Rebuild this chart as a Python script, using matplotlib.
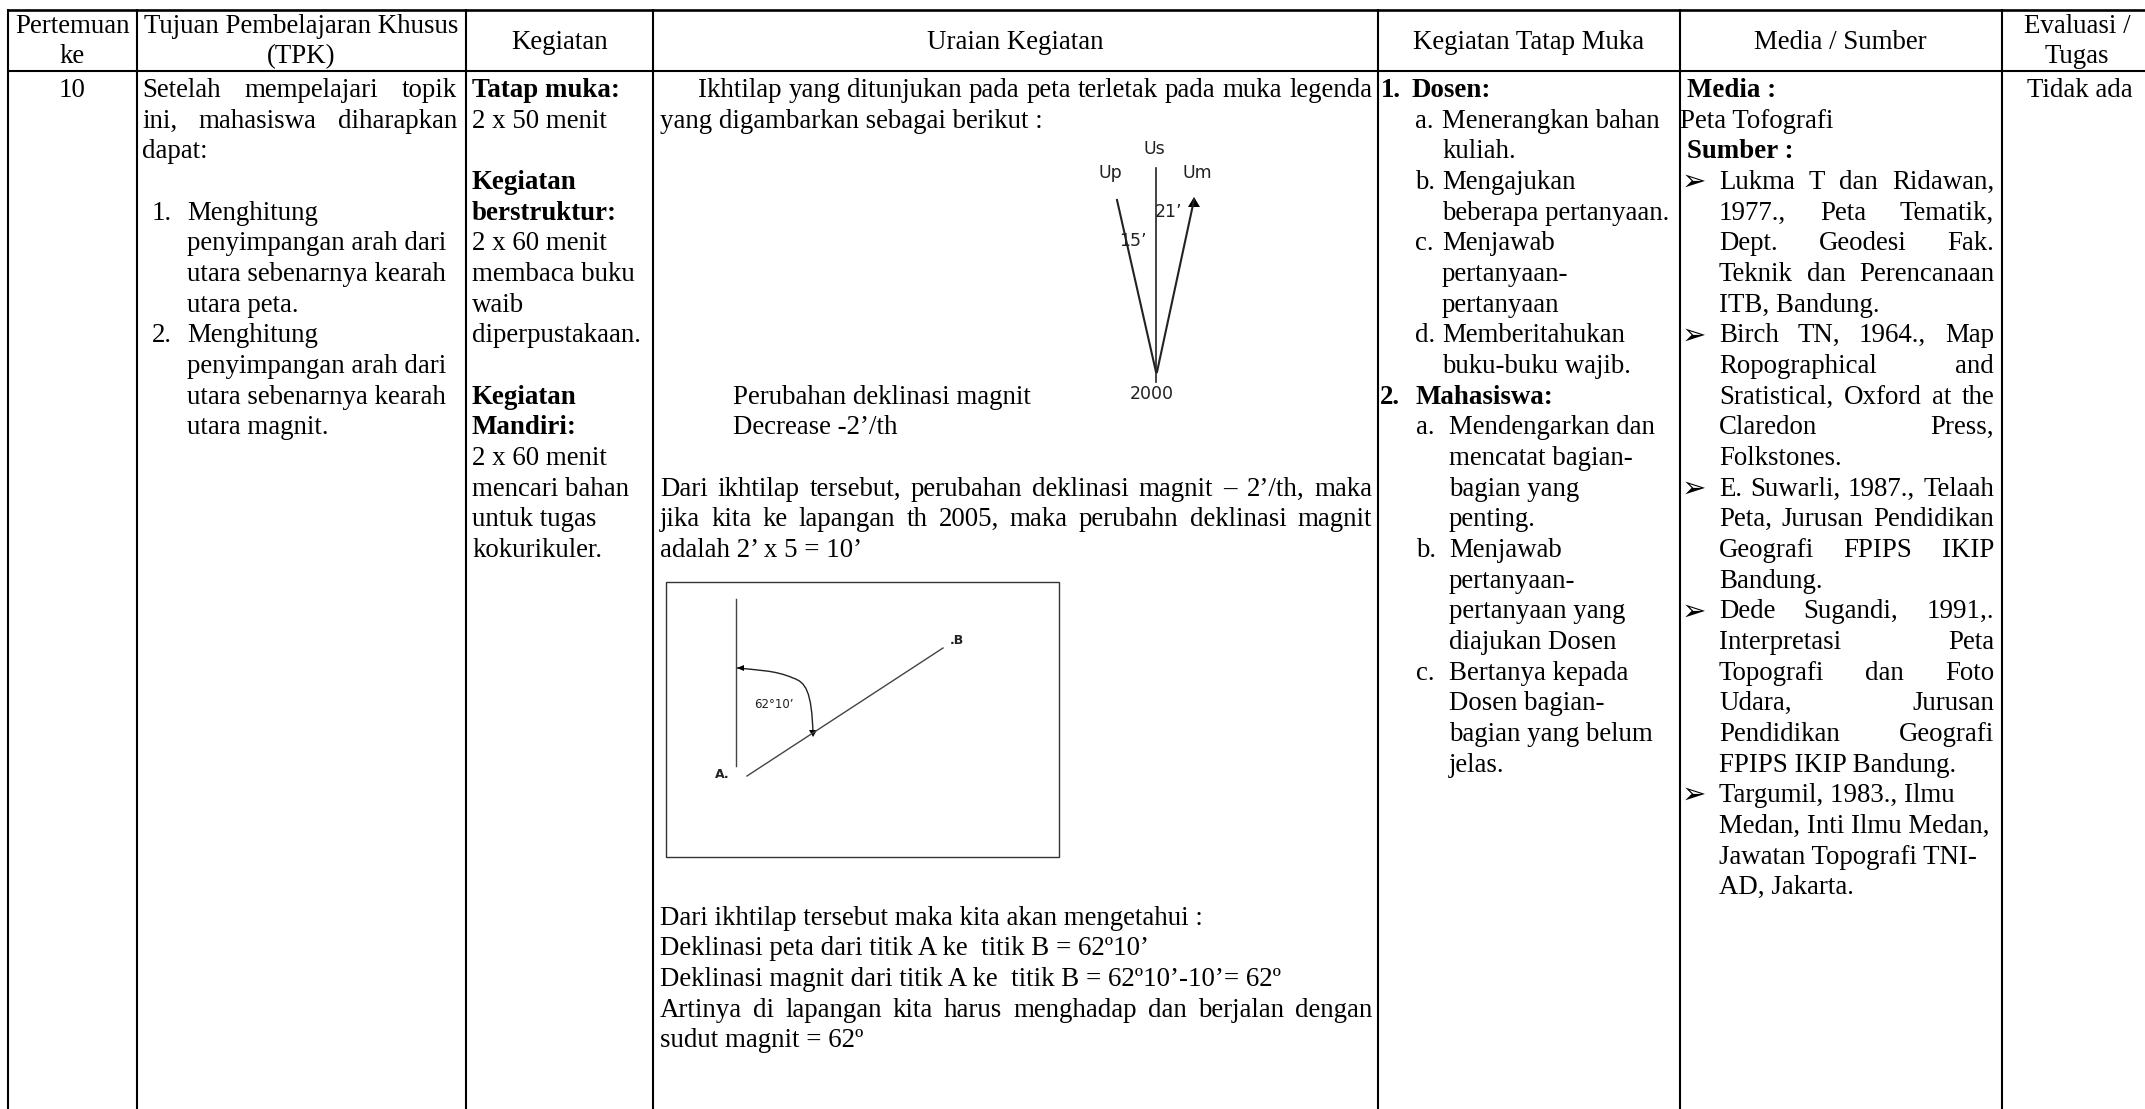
import matplotlib
matplotlib.use("Agg")
import matplotlib.pyplot as plt
from matplotlib.patches import Rectangle, Polygon, PathPatch
from matplotlib.path import Path

W, H = 2145, 1109
SERIF = "Liberation Serif"
FS = 19.4
LINE = 30.66
BASE0 = 97.0

# ---- table content -----------------------------------------------------
HEADERS = [["Pertemuan", "ke"], ["Tujuan Pembelajaran Khusus", "(TPK)"], ["Kegiatan"],
           ["Uraian Kegiatan"], ["Kegiatan Tatap Muka"], ["Media / Sumber"], ["Evaluasi /", "Tugas"]]
COL_EDGES = [8, 137, 466, 652.5, 1378, 1679.5, 2002, 2145]
PERTEMUAN = ["10"]
EVALUASI = ["Tidak ada"]

# (text, layout key, justified); "|" splits a list marker from its text; None = blank row
TPK = [("Setelah mempelajari topik", "p", True), ("ini, mahasiswa diharapkan", "p", True), ("dapat:", "p", False), None,
       ("1.|Menghitung", "n", False), ("penyimpangan arah dari", "c", False), ("utara sebenarnya kearah", "c", False), ("utara peta.", "c", False),
       ("2.|Menghitung", "n", False), ("penyimpangan arah dari", "c", False), ("utara sebenarnya kearah", "c", False), ("utara magnit.", "c", False)]
KEGIATAN = [("*Tatap muka:", "p", False), ("2 x 50 menit", "p", False), None,
            ("*Kegiatan", "p", False), ("*berstruktur:", "p", False), ("2 x 60 menit", "p", False), ("membaca buku", "p", False), ("waib", "p", False), ("diperpustakaan.", "p", False), None,
            ("*Kegiatan", "p", False), ("*Mandiri:", "p", False), ("2 x 60 menit", "p", False), ("mencari bahan", "p", False), ("untuk tugas", "p", False), ("kokurikuler.", "p", False)]
URAIAN = [("Ikhtilap yang ditunjukan pada peta terletak pada muka legenda", "f", True), ("yang digambarkan sebagai berikut :", "p", False),
          None, None, None, None, None, None, None, None,
          ("Perubahan deklinasi magnit", "i", False), ("Decrease -2’/th", "i", False), None,
          ("Dari ikhtilap tersebut, perubahan deklinasi magnit – 2’/th, maka", "p", True),
          ("jika kita ke lapangan th 2005, maka perubahn deklinasi magnit", "p", True),
          ("adalah 2’ x 5 = 10’", "p", False),
          None, None, None, None, None, None, None, None, None, None, None,
          ("Dari ikhtilap tersebut maka kita akan mengetahui :", "p", False),
          ("Deklinasi peta dari titik A ke  titik B = 62º10’", "p", False),
          ("Deklinasi magnit dari titik A ke  titik B = 62º10’-10’= 62º", "p", False),
          ("Artinya di lapangan kita harus menghadap dan berjalan dengan", "p", True),
          ("sudut magnit = 62º", "p", False)]
TATAP = [("*1.|*Dosen:", "h1", False), ("a.|Menerangkan bahan", "a1", False), ("kuliah.", "c1", False),
         ("b.|Mengajukan", "a1", False), ("beberapa pertanyaan.", "c1", False), ("c.|Menjawab", "a1", False),
         ("pertanyaan-", "c1", False), ("pertanyaan", "c1", False), ("d.|Memberitahukan", "a1", False), ("buku-buku wajib.", "c1", False),
         ("*2.|*Mahasiswa:", "h2", False), ("a.|Mendengarkan dan", "a2", False), ("mencatat bagian-", "c2", False), ("bagian yang", "c2", False), ("penting.", "c2", False),
         ("b.|Menjawab", "a2", False), ("pertanyaan-", "c2", False), ("pertanyaan yang", "c2", False), ("diajukan Dosen", "c2", False),
         ("c.|Bertanya kepada", "a2", False), ("Dosen bagian-", "c2", False), ("bagian yang belum", "c2", False), ("jelas.", "c2", False)]
MEDIA = [("*Media :", "h", False), ("Peta Tofografi", "p", False), ("*Sumber :", "h", False),
         ("➢|Lukma T dan Ridawan,", "b", True), ("1977.,  Peta  Tematik,", "c", True), ("Dept.  Geodesi  Fak.", "c", True), ("Teknik dan Perencanaan", "c", True), ("ITB, Bandung.", "c", False),
         ("➢|Birch TN, 1964., Map", "b", True), ("Ropographical and", "c", True), ("Sratistical, Oxford at the", "c", True), ("Claredon Press,", "c", True), ("Folkstones.", "c", False),
         ("➢|E. Suwarli, 1987., Telaah", "b", True), ("Peta, Jurusan Pendidikan", "c", True), ("Geografi FPIPS IKIP", "c", True), ("Bandung.", "c", False),
         ("➢|Dede Sugandi, 1991,.", "b", True), ("Interpretasi Peta", "c", True), ("Topografi dan Foto", "c", True), ("Udara, Jurusan", "c", True), ("Pendidikan Geografi", "c", True), ("FPIPS IKIP Bandung.", "c", False),
         ("➢|Targumil, 1983., Ilmu", "b", False), ("Medan, Inti Ilmu Medan,", "c", False), ("Jawatan Topografi TNI-", "c", False), ("AD, Jakarta.", "c", False)]

# layout: key -> (marker x, text x)
LAYOUT_TPK = {"p": (142, 142), "n": (152, 187), "c": (187, 187)}
LAYOUT_KEG = {"p": (472, 472)}
LAYOUT_URA = {"p": (660, 660), "f": (698, 698), "i": (733, 733)}
LAYOUT_TAT = {"h1": (1381, 1412), "h2": (1380, 1416), "a1": (1415, 1442), "c1": (1442, 1442), "a2": (1416, 1449), "c2": (1449, 1449)}
LAYOUT_MED = {"h": (1687, 1687), "p": (1680, 1680), "b": (1682, 1719), "c": (1719, 1719)}
RIGHT_TPK, RIGHT_URA, RIGHT_MED = 457, 1372, 1994

# ---- figures inside the table ------------------------------------------
COMPASS_LABELS = [("Us", 1154, 149), ("Up", 1110, 173), ("Um", 1197, 173), ("21’", 1169, 212), ("15’", 1133, 241), ("2000", 1152, 394)]
COMPASS_TRUE = [(1156, 168), (1156, 382)]
COMPASS_UP = [(1117, 200), (1156, 372)]
COMPASS_UM = [(1157, 372), (1194, 200)]
BOX = (666, 582, 1059, 857)
NORTH_LINE = [(736, 599), (736, 766)]
AB_LINE = [(747, 776), (943, 648)]
ANGLE_ARC = [(813, 735), (812, 690), (805, 682), (793, 678), (775, 670), (755, 670), (737, 668)]
BOX_LABELS = [("62°10’", 774, 705, 8.5, "normal"), ("A.", 722, 774, 9.0, "bold"), (".B", 957, 641, 9.0, "bold")]

fig = plt.figure(figsize=(W / 100, H / 100), dpi=100)
ax = fig.add_axes([0, 0, 1, 1])
ax.set_xlim(0, W)
ax.set_ylim(H, 0)
ax.axis("off")
r = fig.canvas.get_renderer()


def width(s, bold):
    t = ax.text(0, 0, s, family=SERIF, fontsize=FS, weight="bold" if bold else "normal")
    w = t.get_window_extent(r).width
    t.remove()
    return w


def put(x, y, s, bold=False, **kw):
    return ax.text(x, y, s, family=SERIF, fontsize=FS, weight="bold" if bold else "normal",
                   va="baseline", color="black", **kw)


def draw_piece(x, y, s, bold, right=None):
    if right is None:
        put(x, y, s, bold)
        return
    words = s.split()
    ws = [width(w, bold) for w in words]
    gap = (right - x - sum(ws)) / max(len(words) - 1, 1)
    cx = x
    for w, wd in zip(words, ws):
        put(cx, y, w, bold)
        cx += wd + gap


def draw_column(lines, layout, right=None):
    for i, item in enumerate(lines):
        if item is None:
            continue
        text, key, just = item
        y = BASE0 + i * LINE
        x0, x1 = layout[key]
        if "|" in text:
            mark, body = text.split("|")
            if mark == "➢":
                ax.text(x0, y + 1, mark, family="DejaVu Sans", fontsize=21, va="baseline", color="black")
            else:
                b = mark.startswith("*")
                put(x0, y, mark.lstrip("*"), b)
            text = body
        bold = text.startswith("*")
        draw_piece(x1, y, text.lstrip("*"), bold, right if just else None)


# grid
LW = 1.5
ax.plot([COL_EDGES[0], W], [9.5, 9.5], color="black", lw=LW + 0.4, solid_capstyle="butt")
ax.plot([COL_EDGES[0], W], [70.5, 70.5], color="black", lw=LW, solid_capstyle="butt")
for x in COL_EDGES[:-1]:
    ax.plot([x, x], [9, H], color="black", lw=LW, solid_capstyle="butt")

# headers
for i, lines in enumerate(HEADERS):
    cx = (COL_EDGES[i] + COL_EDGES[i + 1]) / 2
    if i == 6:
        cx = 2077
    ys = [33, 63] if len(lines) == 2 else [49]
    for s, y in zip(lines, ys):
        put(cx, y, s, ha="center")

put((COL_EDGES[0] + COL_EDGES[1]) / 2, BASE0, PERTEMUAN[0], ha="center")
put(2080, BASE0, EVALUASI[0], ha="center")
draw_column(TPK, LAYOUT_TPK, RIGHT_TPK)
draw_column(KEGIATAN, LAYOUT_KEG)
draw_column(URAIAN, LAYOUT_URA, RIGHT_URA)
draw_column(TATAP, LAYOUT_TAT)
draw_column(MEDIA, LAYOUT_MED, RIGHT_MED)

# compass sketch
for s, x, y in COMPASS_LABELS:
    ax.text(x, y, s, family="DejaVu Sans", fontsize=12.5, color="#222222", ha="center", va="center")
for seg, lw in ((COMPASS_TRUE, 1.2), (COMPASS_UP, 1.5), (COMPASS_UM, 1.5)):
    xs, ys = zip(*seg)
    ax.plot(xs, ys, color="#222222", lw=lw)
ax.add_patch(Polygon([(1194, 197), (1188, 207), (1200, 207)], closed=True, color="black", lw=0))

# bearing sketch
x0, y0, x1, y1 = BOX
ax.add_patch(Rectangle((x0, y0), x1 - x0, y1 - y0, fill=False, ec="#333333", lw=1.0))
for seg in (NORTH_LINE, AB_LINE):
    xs, ys = zip(*seg)
    ax.plot(xs, ys, color="#444444", lw=1.0)
codes = [Path.MOVETO, Path.CURVE4, Path.CURVE4, Path.CURVE4, Path.CURVE4, Path.CURVE4, Path.CURVE4]
ax.add_patch(PathPatch(Path(ANGLE_ARC, codes), fill=False, ec="#222222", lw=1.0))
ax.add_patch(Polygon([(813, 737), (809, 730), (817, 730)], closed=True, color="black", lw=0))
ax.add_patch(Polygon([(737, 668), (744, 665), (744, 671)], closed=True, color="black", lw=0))
for s, x, y, fs, wt in BOX_LABELS:
    ax.text(x, y, s, family="DejaVu Sans", fontsize=fs, weight=wt, color="#222222", ha="center", va="center")

fig.savefig("out.png", dpi=100, facecolor="white")
